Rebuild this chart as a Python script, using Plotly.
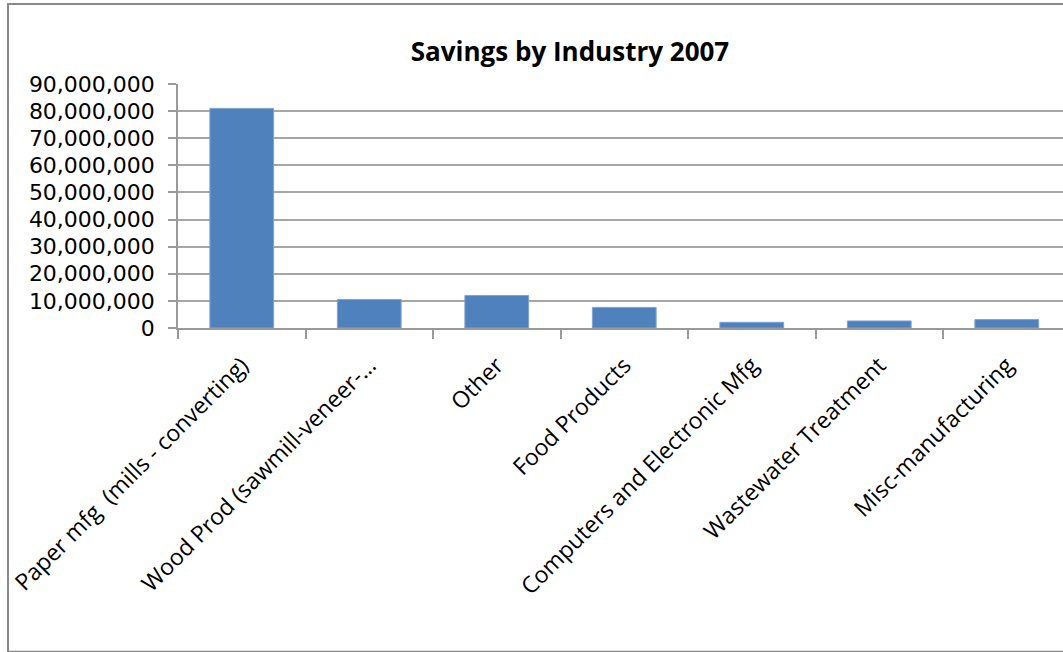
import plotly.graph_objects as go

# Savings by industry, 2007
industries = [
    "Paper mfg  (mills - converting)",
    "Wood Prod (sawmill-veneer-…",
    "Other",
    "Food Products",
    "Computers and Electronic Mfg",
    "Wastewater Treatment",
    "Misc-manufacturing",
]
savings = [81000000, 10500000, 12000000, 7600000, 2100000, 2600000, 3100000]

y_ticks = [0, 10000000, 20000000, 30000000, 40000000, 50000000,
           60000000, 70000000, 80000000, 90000000]

W, H = 1063, 652
L, T, B = 178, 84, 324.3
plot_h = H - T - B
plot_w = W - L

fig = go.Figure(
    go.Bar(
        x=industries,
        y=savings,
        width=0.5,
        marker=dict(color="#4F81BD", line=dict(color="#7EA3D3", width=1)),
    )
)

def px_x(px):
    return (px - L) / plot_w

def px_y(py):
    return (H - B - py) / plot_h

fig.update_layout(
    width=W,
    height=H,
    margin=dict(l=L, r=0, t=T, b=B, pad=0, autoexpand=False),
    paper_bgcolor="white",
    plot_bgcolor="white",
    showlegend=False,
    title=dict(
        text="<b>Savings by Industry 2007</b>",
        x=570 / W,
        xref="container",
        xanchor="center",
        y=1 - 52 / H,
        yref="container",
        yanchor="middle",
        font=dict(family="Open Sans", size=26, color="black"),
    ),
    xaxis=dict(
        type="category",
        automargin=False,
        range=[-0.5, -0.5 + plot_w / 127.5],
        tickangle=-45,
        tickson="boundaries",
        ticks="outside",
        ticklen=9,
        tickcolor="#9a9a9a",
        tickwidth=1.5,
        showline=True,
        linecolor="#9a9a9a",
        linewidth=1.5,
        showgrid=False,
        ticklabelstandoff=13,
        tickfont=dict(family="Open Sans", size=23, color="black"),
    ),
    yaxis=dict(
        automargin=False,
        range=[0, 90000000],
        tickvals=y_ticks,
        ticktext=[f"{v:,}" for v in y_ticks],
        ticks="outside",
        ticklen=8,
        tickcolor="#9a9a9a",
        tickwidth=1.5,
        showline=True,
        linecolor="#9a9a9a",
        linewidth=1.5,
        showgrid=True,
        gridcolor="#a6a6a6",
        gridwidth=1.5,
        zeroline=False,
        ticklabelstandoff=9,
        tickfont=dict(family="DejaVu Sans", size=22, color="black"),
    ),
    shapes=[
        dict(
            type="rect", xref="paper", yref="paper",
            x0=px_x(8), x1=px_x(1100), y0=px_y(651), y1=px_y(4),
            line=dict(color="#8a8a8a", width=2),
            fillcolor="rgba(0,0,0,0)", layer="below",
        )
    ],
)

fig.write_html("out.html")
